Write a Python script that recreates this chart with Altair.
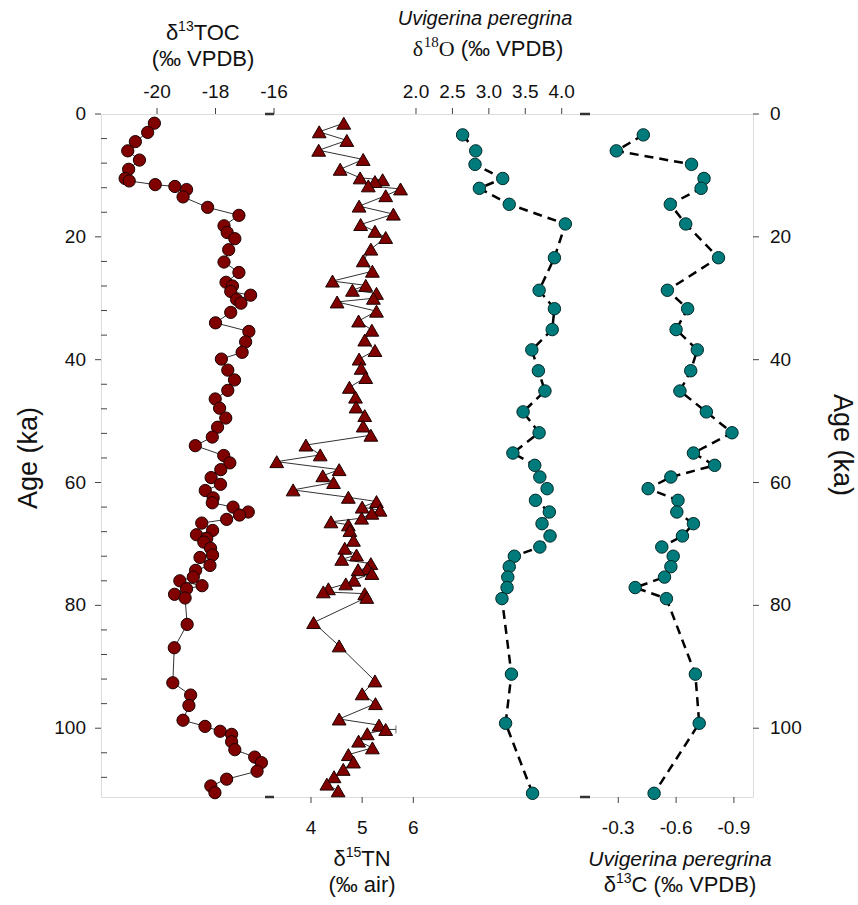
import altair as alt
import pandas as pd

W, H = 652, 683
SANS = "Liberation Sans"
SERIF = "Liberation Serif"
RED = "#800000"
TEAL = "#007b7b"

# ---------------- data ----------------
toc_age = [1.5, 3.0, 4.5, 6.0, 7.5, 9.0, 10.5, 10.9, 11.5, 11.8, 12.3, 13.5, 15.2, 16.5, 18.2, 19.3,
           20.3, 22.1, 24.1, 25.8, 27.4, 28.0, 28.9, 29.5, 30.2, 30.8, 32.3, 34.0, 35.4, 37.1, 38.8,
           39.9, 41.7, 43.3, 45.0, 46.4, 47.9, 49.5, 51.0, 52.6, 54.0, 55.6, 56.8, 57.9, 59.2, 60.3,
           61.3, 62.5, 63.3, 64.0, 64.8, 65.3, 66.0, 66.6, 67.8, 68.5, 69.1, 69.7, 70.7, 71.8, 72.2,
           73.5, 74.3, 75.4, 76.0, 76.8, 77.3, 78.2, 78.8, 83.1, 86.9, 92.6, 94.6, 96.3, 98.7, 99.7,
           100.5, 101.0, 102.2, 103.5, 104.7, 105.6, 107.0, 108.3, 109.4, 110.5]
toc_val = [-20.09, -20.32, -20.74, -21.00, -20.60, -20.97, -21.09, -20.95, -20.06, -19.39, -18.99,
           -19.11, -18.27, -17.20, -17.71, -17.60, -17.34, -17.55, -17.71, -17.20, -17.64, -17.42,
           -17.48, -16.80, -17.28, -17.13, -17.48, -18.00, -16.86, -16.97, -17.09, -17.80, -17.58,
           -17.35, -17.58, -18.01, -17.86, -17.65, -17.93, -18.11, -18.69, -17.72, -17.51, -17.82,
           -18.15, -17.83, -18.35, -18.08, -18.11, -17.40, -16.88, -17.18, -17.62, -18.47, -18.10,
           -18.65, -18.30, -18.40, -18.17, -18.10, -18.53, -18.19, -18.68, -18.76, -19.22, -18.46,
           -18.99, -19.40, -19.04, -18.97, -19.41, -19.46, -18.85, -18.91, -19.11, -18.36, -17.84,
           -17.45, -17.45, -17.34, -16.66, -16.43, -16.58, -17.62, -18.16, -18.02]

tn_age = [1.5, 2.9, 4.3, 5.9, 7.4, 9.0, 10.4, 10.7, 11.0, 11.7, 12.2, 13.3, 15.0, 16.3, 18.0, 19.1,
          20.1, 22.0, 23.9, 25.6, 27.2, 27.9, 28.7, 29.2, 30.0, 30.6, 32.1, 33.7, 35.2, 36.8, 38.5,
          39.9, 41.4, 42.9, 44.5, 46.1, 47.7, 49.1, 50.8, 52.3, 53.9, 55.5, 56.6, 57.9, 58.9, 60.0,
          61.2, 62.4, 63.1, 64.0, 64.5, 65.0, 65.8, 66.4, 66.9, 67.8, 69.4, 70.7, 71.8, 72.5, 73.2,
          74.0, 74.2, 74.8, 75.9, 76.5, 77.3, 77.8, 78.1, 78.7, 82.8, 86.6, 92.3, 94.4, 96.0, 98.5,
          99.5, 100.2, 100.9, 102.1, 103.2, 104.3, 105.5, 106.7, 107.9, 109.1, 110.2]
tn_val = [4.64, 4.16, 4.70, 4.15, 5.02, 4.57, 4.96, 5.40, 5.25, 5.12, 5.75, 5.46, 4.94, 5.61, 4.97,
          5.25, 5.46, 5.17, 5.02, 5.20, 4.42, 5.07, 4.81, 5.28, 5.22, 4.51, 5.28, 4.93, 5.19, 5.05,
          5.25, 4.94, 4.98, 5.07, 4.75, 4.87, 4.88, 5.05, 5.02, 5.17, 3.90, 4.18, 3.33, 4.55, 4.23,
          4.44, 3.65, 4.73, 5.28, 5.00, 5.35, 5.19, 4.99, 4.39, 4.73, 4.76, 4.83, 4.66, 4.89, 4.60,
          5.17, 5.10, 4.92, 5.19, 4.84, 4.68, 4.34, 4.24, 5.05, 5.09, 4.05, 4.55, 5.25, 5.00, 5.26,
          4.55, 5.33, 5.46, 5.10, 4.93, 5.20, 4.73, 4.83, 4.63, 4.45, 4.31, 4.53]

# error bar on one d15N sample
err_age = [100.2]
err_lo = [5.24]
err_hi = [5.66]

foram_age = [3.4, 6.0, 8.2, 10.5, 12.1, 14.7, 17.9, 23.4, 28.7, 31.7, 35.1, 38.4, 41.8, 45.1, 48.5,
             51.9, 55.2, 57.2, 59.1, 61.0, 62.9, 64.8, 66.7, 68.7, 70.5, 72.0, 73.7, 75.4, 77.1,
             78.9, 91.2, 99.2, 110.6]
d18o = [2.64, 2.82, 2.81, 3.19, 2.87, 3.28, 4.05, 3.90, 3.69, 3.90, 3.87, 3.59, 3.68, 3.77, 3.47,
        3.69, 3.33, 3.63, 3.70, 3.80, 3.64, 3.83, 3.73, 3.84, 3.70, 3.35, 3.28, 3.26, 3.25, 3.18,
        3.31, 3.23, 3.60]
d13c = [-0.43, -0.29, -0.68, -0.745, -0.73, -0.57, -0.65, -0.82, -0.555, -0.66, -0.60, -0.71,
        -0.676, -0.62, -0.757, -0.89, -0.69, -0.80, -0.573, -0.455, -0.61, -0.604, -0.69, -0.633,
        -0.526, -0.585, -0.573, -0.54, -0.388, -0.55, -0.70, -0.72, -0.486]

# tick values / labels
toc_ticks = [-20, -18, -16]
toc_labels = ["-20", "-18", "-16"]
tn_ticks = [4, 5, 6]
tn_labels = ["4", "5", "6"]
o_ticks = [2.0, 2.5, 3.0, 3.5, 4.0]
o_labels = ["2.0", "2.5", "3.0", "3.5", "4.0"]
c_ticks = [-0.3, -0.6, -0.9]
c_labels = ["-0.3", "-0.6", "-0.9"]
age_major = [0, 20, 40, 60, 80, 100]
age_major_labels = ["0", "20", "40", "60", "80", "100"]
age_minor = [4, 8, 12, 16, 24, 28, 32, 36, 44, 48, 52, 56, 64, 68, 72, 76, 84, 88, 92, 96, 104, 108]

# ---------------- scales ----------------
y_scale = alt.Scale(domain=[0, 111.2], reverse=True, nice=False, zero=False)
toc_scale = alt.Scale(domain=[-21.915, 0.376], nice=False, zero=False)
tn_scale = alt.Scale(domain=[-0.106, 12.641], nice=False, zero=False)
o_scale = alt.Scale(domain=[-2.324, 6.626], nice=False, zero=False)
c_scale = alt.Scale(domain=[-0.999, 2.383], reverse=True, nice=False, zero=False)

Y = alt.Y("age:Q", scale=y_scale, axis=None)


def X(scale):
    return alt.X("v:Q", scale=scale, axis=None)


def axis_layers(scale, ticks, labels, top):
    df = pd.DataFrame({"v": ticks, "lab": labels})
    if top:
        t = alt.Chart(df).mark_rule(color="#444", strokeWidth=1).encode(
            x=X(scale), y=alt.value(-6), y2=alt.value(0))
        l = alt.Chart(df).mark_text(font=SANS, fontSize=19, color="#111", baseline="middle").encode(
            x=X(scale), y=alt.value(-22), text="lab:N")
    else:
        t = alt.Chart(df).mark_rule(color="#444", strokeWidth=1).encode(
            x=X(scale), y=alt.value(H), y2=alt.value(H + 6))
        l = alt.Chart(df).mark_text(font=SANS, fontSize=19, color="#111", baseline="middle").encode(
            x=X(scale), y=alt.value(H + 31), text="lab:N")
    return [t, l]


# d13C TOC
toc_df = pd.DataFrame({"age": toc_age, "v": toc_val})
toc_line = alt.Chart(toc_df).mark_line(color="#333", strokeWidth=1).encode(
    x=X(toc_scale), y=Y, order="age:Q")
toc_pts = alt.Chart(toc_df).mark_point(shape="circle", filled=True, size=150, fill=RED,
                                       stroke="#1a0000", strokeWidth=1, opacity=1).encode(
    x=X(toc_scale), y=Y)
toc_group = alt.layer(toc_line, toc_pts, *axis_layers(toc_scale, toc_ticks, toc_labels, True))

# d15N
tn_df = pd.DataFrame({"age": tn_age, "v": tn_val})
err_df = pd.DataFrame({"age": err_age, "v": err_lo, "v2": err_hi})
tn_line = alt.Chart(tn_df).mark_line(color="#333", strokeWidth=1).encode(
    x=X(tn_scale), y=Y, order="age:Q")
tn_err = alt.Chart(err_df).mark_rule(color="#333", strokeWidth=1).encode(
    x=X(tn_scale), x2="v2:Q", y=Y)
tn_cap = alt.Chart(err_df).mark_tick(orient="vertical", color="#333", size=8, thickness=1).encode(
    x=alt.X("v2:Q", scale=tn_scale, axis=None), y=Y)
tn_pts = alt.Chart(tn_df).mark_point(shape="triangle-up", filled=True, size=190, fill=RED,
                                     stroke="#1a0000", strokeWidth=1, opacity=1).encode(
    x=X(tn_scale), y=Y)
tn_group = alt.layer(tn_line, tn_err, tn_cap, tn_pts, *axis_layers(tn_scale, tn_ticks, tn_labels, False))

# d18O
o_df = pd.DataFrame({"age": foram_age, "v": d18o})
o_line = alt.Chart(o_df).mark_line(color="black", strokeWidth=2.5, strokeDash=[9, 6]).encode(
    x=X(o_scale), y=Y, order="age:Q")
o_pts = alt.Chart(o_df).mark_point(shape="circle", filled=True, size=155, fill=TEAL,
                                   stroke="#002a2a", strokeWidth=1, opacity=1).encode(
    x=X(o_scale), y=Y)
o_group = alt.layer(o_line, o_pts, *axis_layers(o_scale, o_ticks, o_labels, True))

# d13C
c_df = pd.DataFrame({"age": foram_age, "v": d13c})
c_line = alt.Chart(c_df).mark_line(color="black", strokeWidth=2.5, strokeDash=[9, 6]).encode(
    x=X(c_scale), y=Y, order="age:Q")
c_pts = alt.Chart(c_df).mark_point(shape="circle", filled=True, size=155, fill=TEAL,
                                   stroke="#002a2a", strokeWidth=1, opacity=1).encode(
    x=X(c_scale), y=Y)
c_group = alt.layer(c_line, c_pts, *axis_layers(c_scale, c_ticks, c_labels, False))

# age axes (left and right)
maj_df = pd.DataFrame({"age": age_major, "lab": age_major_labels})
min_df = pd.DataFrame({"age": age_minor})
left_major = alt.Chart(maj_df).mark_rule(color="#444", strokeWidth=1).encode(
    x=alt.value(-6), x2=alt.value(0), y=Y)
left_minor = alt.Chart(min_df).mark_rule(color="#444", strokeWidth=1).encode(
    x=alt.value(0), x2=alt.value(6), y=Y)
left_labels = alt.Chart(maj_df).mark_text(font=SANS, fontSize=19, color="#111", align="right",
                                          baseline="middle").encode(
    x=alt.value(-15), y=Y, text="lab:N")
right_major = alt.Chart(maj_df).mark_rule(color="#444", strokeWidth=1).encode(
    x=alt.value(W), x2=alt.value(W + 6), y=Y)
right_labels = alt.Chart(maj_df).mark_text(font=SANS, fontSize=19, color="#111", align="left",
                                           baseline="middle").encode(
    x=alt.value(W + 17), y=Y, text="lab:N")

one = pd.DataFrame({"a": [0]})

# approximate advance widths (em) for laying out rich titles
SANS_W = {"δ": 0.556, "T": 0.611, "O": 0.778, "C": 0.722, "N": 0.722, " ": 0.278, "(": 0.333,
          ")": 0.333, "‰": 1.0, "V": 0.667, "P": 0.667, "D": 0.722, "B": 0.667, "a": 0.556,
          "i": 0.222, "r": 0.333}
SERIF_W = {"δ": 0.5, "O": 0.722, " ": 0.25}


def text_width(s, font, size):
    table = SERIF_W if font == SERIF else SANS_W
    return sum(table.get(ch, 0.556 if ch.isdigit() and font == SANS else 0.5) for ch in s) * size


def label(text, x, y, size=22, font=SANS, style="normal", angle=0, align="center",
          baseline="middle"):
    return alt.Chart(one).mark_text(text=text, font=font, fontSize=size, fontStyle=style,
                                    angle=angle, align=align, baseline=baseline,
                                    color="#111").encode(x=alt.value(x), y=alt.value(y))


def rich(segments, cx, base):
    """segments: (text, font, size, raise_px); laid out left to right, centred on cx.
    A segment of only blanks just advances the pen."""
    widths = [text_width(t, f, s) for t, f, s, r in segments]
    x = cx - sum(widths) / 2
    out = []
    for (t, f, s, r), w in zip(segments, widths):
        if t.strip():
            out.append(label(t, x, base - r, size=s, font=f, align="left", baseline="alphabetic"))
        x += w
    return out


titles = [
    label("Age (ka)", -72, 344, size=27, angle=270),
    label("Age (ka)", 741, 331, size=27, angle=90),
    *rich([("δ", SANS, 22, 0), ("13", SANS, 14, 9), ("TOC", SANS, 22, 0)], 102, -74),
    label("(‰ VPDB)", 102, -48, baseline="alphabetic"),
    label("Uvigerina peregrina", 384, -89, size=20, style="italic", baseline="alphabetic"),
    *rich([("δ", SERIF, 22, 0), ("18", SERIF, 15, 9), ("O", SERIF, 22, 0),
           (" ", SANS, 22, 0), ("(‰ VPDB)", SANS, 22, 0)], 387, -58),
    *rich([("δ", SANS, 22, 0), ("15", SANS, 14, 9), ("TN", SANS, 22, 0)], 261, H + 69),
    label("(‰ air)", 261, H + 95, baseline="alphabetic"),
    label("Uvigerina peregrina", 579, H + 69, size=21, style="italic", baseline="alphabetic"),
    *rich([("δ", SANS, 22, 0), ("13", SANS, 14, 9), ("C", SANS, 22, 0), (" ", SANS, 22, 0),
           ("(‰ VPDB)", SANS, 22, 0)], 579, H + 95),
]

# small thick stubs at the ends of the inner axes
stubs = []
for (xa, xb) in [(164, 173), (479, 489)]:
    for yy in [0, H]:
        stubs.append(alt.Chart(one).mark_rule(color="#333", strokeWidth=2.5).encode(
            x=alt.value(xa), x2=alt.value(xb), y=alt.value(yy)))

chart = alt.layer(
    toc_group, tn_group, o_group, c_group,
    left_major, left_minor, left_labels, right_major, right_labels,
    *stubs, *titles,
).resolve_scale(x="independent").properties(
    width=W, height=H,
    autosize=alt.AutoSizeParams(type="none"),
    padding={"left": 101, "top": 114, "right": 105, "bottom": 108},
).configure_view(stroke="#444", strokeWidth=1).configure(background="white")

chart.save("out.html", embed_options={"renderer": "svg", "actions": False})
